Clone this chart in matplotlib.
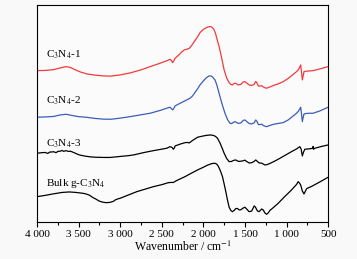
import matplotlib.pyplot as plt
from matplotlib.ticker import MultipleLocator, FuncFormatter

plt.rcParams['font.family'] = ['Liberation Serif', 'DejaVu Serif']
plt.rcParams['mathtext.fontset'] = 'stix'

# FTIR spectra, wavenumber (cm-1) and offset intensity (a.u.)
wn_1 = [4000, 3900, 3800, 3720, 3650, 3600, 3550, 3480, 3400, 3300, 3200, 3120,
        3000, 2880, 2760, 2640, 2520, 2430, 2400, 2380, 2370, 2355, 2340, 2300,
        2260, 2230, 2200, 2170, 2140, 2110, 2070, 2040, 2000, 1960, 1930, 1910,
        1890, 1870, 1850, 1830, 1810, 1780, 1750, 1720, 1690, 1670, 1650, 1640,
        1620, 1600, 1580, 1550, 1520, 1500, 1480, 1450, 1420, 1390, 1370, 1355,
        1340, 1320, 1300, 1280, 1260, 1240, 1200, 1150, 1100, 1040, 980, 920,
        880, 860, 840, 830, 820, 810, 800, 790, 760, 720, 680, 600, 500]
y_1 = [151.3, 151.5, 152.3, 154.0, 155.3, 154.5, 152.5, 150.0, 148.0, 146.8, 146.0,
       145.8, 147.0, 149.0, 151.8, 155.3, 158.7, 161.5, 162.7, 161.0, 159.3, 161.0,
       163.7, 166.5, 170.0, 172.0, 172.7, 173.5, 176.5, 180.3, 185.0, 189.3, 192.5,
       194.5, 195.3, 195.3, 194.3, 192.0, 187.5, 181.0, 175.3, 164.0, 152.0, 144.0,
       139.3, 137.5, 137.0, 138.0, 138.8, 138.0, 137.0, 137.5, 140.0, 140.3, 139.0,
       137.0, 136.5, 137.5, 140.5, 139.0, 136.0, 135.8, 136.3, 135.0, 134.2, 133.7,
       135.0, 136.7, 138.0, 140.3, 143.5, 147.5, 150.3, 152.0, 155.0, 157.0, 150.0,
       142.0, 146.0, 150.3, 150.8, 151.0, 151.3, 153.0, 155.3]

wn_2 = [4000, 3900, 3800, 3720, 3650, 3580, 3500, 3410, 3300, 3200, 3110, 3000,
        2880, 2760, 2640, 2520, 2430, 2400, 2380, 2370, 2355, 2340, 2300, 2240,
        2200, 2160, 2130, 2100, 2070, 2040, 2000, 1960, 1930, 1910, 1890, 1860,
        1840, 1820, 1800, 1770, 1740, 1710, 1680, 1660, 1640, 1620, 1600, 1580,
        1550, 1520, 1500, 1480, 1450, 1420, 1390, 1370, 1355, 1340, 1320, 1300,
        1280, 1260, 1240, 1200, 1150, 1100, 1040, 980, 920, 880, 860, 840, 830,
        820, 810, 800, 790, 760, 720, 680, 600, 500]
y_2 = [104.7, 105.0, 105.5, 107.0, 107.7, 106.5, 105.3, 104.7, 103.5, 102.8, 102.7,
       103.8, 105.3, 107.0, 108.7, 111.5, 114.0, 114.7, 113.0, 112.0, 113.5, 116.0,
       117.8, 120.3, 122.0, 123.7, 126.0, 129.5, 133.0, 137.0, 141.0, 144.5, 146.0,
       146.0, 145.0, 142.0, 137.5, 131.5, 125.3, 116.5, 108.7, 102.5, 98.7, 98.3,
       99.5, 100.3, 99.5, 98.5, 99.0, 101.5, 102.0, 100.5, 98.5, 98.0, 99.0, 102.0,
       100.5, 97.5, 97.3, 97.8, 96.5, 95.7, 95.3, 96.5, 97.8, 98.5, 99.3, 102.0,
       106.0, 108.7, 110.5, 113.0, 114.7, 108.0, 100.3, 104.5, 108.0, 108.5, 108.7,
       108.7, 111.0, 114.7]

wn_3 = [4000, 3950, 3900, 3870, 3850, 3800, 3770, 3750, 3720, 3700, 3680, 3650,
        3620, 3600, 3560, 3520, 3490, 3420, 3350, 3290, 3200, 3120, 3000, 2900,
        2840, 2720, 2600, 2500, 2440, 2400, 2375, 2360, 2345, 2340, 2280, 2220,
        2190, 2170, 2130, 2070, 2000, 1960, 1910, 1870, 1850, 1830, 1800, 1770,
        1750, 1720, 1690, 1660, 1640, 1610, 1590, 1570, 1530, 1500, 1480, 1450,
        1420, 1390, 1370, 1350, 1330, 1300, 1260, 1240, 1200, 1150, 1100, 1020,
        940, 880, 840, 825, 810, 795, 780, 720, 690, 680, 675, 660, 580, 500]
y_3 = [68.7, 69.2, 69.5, 68.5, 69.8, 70.2, 69.3, 70.5, 70.8, 71.5, 70.6, 71.3,
       70.5, 70.8, 69.5, 68.0, 67.0, 65.8, 65.0, 64.7, 64.5, 64.5, 65.5, 66.3,
       67.0, 69.3, 71.3, 72.8, 73.7, 75.3, 74.5, 72.7, 74.5, 76.0, 77.8, 79.3,
       79.5, 79.0, 81.5, 84.7, 86.0, 86.6, 87.0, 86.3, 85.3, 83.7, 79.0, 73.0,
       68.7, 63.5, 60.3, 60.5, 61.5, 62.0, 61.0, 60.5, 61.0, 61.8, 60.5, 59.0,
       59.2, 60.5, 62.0, 60.5, 59.0, 58.8, 57.0, 57.2, 58.5, 60.5, 62.7, 66.5,
       70.3, 73.0, 75.3, 73.0, 66.0, 70.0, 72.7, 73.2, 73.5, 75.5, 72.7, 73.7,
       75.5, 77.0]

wn_bulk = [4000, 3900, 3810, 3700, 3610, 3530, 3450, 3410, 3370, 3330, 3290,
           3250, 3210, 3170, 3120, 3080, 3060, 3030, 3000, 2900, 2800, 2700,
           2600, 2500, 2420, 2390, 2360, 2330, 2280, 2220, 2150, 2070, 2000,
           1950, 1900, 1870, 1850, 1830, 1810, 1790, 1770, 1750, 1730, 1710,
           1690, 1670, 1650, 1630, 1610, 1590, 1570, 1550, 1520, 1500, 1480,
           1450, 1420, 1400, 1390, 1375, 1350, 1330, 1310, 1300, 1280, 1260,
           1240, 1220, 1200, 1150, 1100, 1020, 940, 880, 860, 845, 830, 810,
           790, 775, 760, 750, 700, 600, 500]
y_bulk = [25.3, 26.6, 28.0, 29.5, 30.0, 29.5, 28.7, 28.0, 26.8, 24.5, 22.8,
          20.8, 19.8, 19.3, 19.6, 20.7, 22.0, 23.0, 23.7, 27.0, 30.3, 32.8,
          35.3, 37.3, 39.3, 39.5, 39.5, 41.0, 43.0, 45.3, 48.5, 52.0, 54.7,
          56.8, 58.3, 58.7, 58.4, 57.0, 54.0, 50.0, 45.3, 38.0, 30.3, 22.0,
          14.7, 11.5, 10.3, 11.5, 13.4, 13.5, 12.0, 12.2, 14.0, 14.7, 13.0,
          10.3, 10.8, 14.0, 16.0, 15.0, 11.0, 10.3, 12.0, 13.0, 12.0, 9.0,
          7.7, 9.0, 11.5, 15.0, 18.7, 25.5, 32.0, 37.5, 40.3, 39.0, 37.0, 31.0,
          28.0, 30.5, 33.0, 33.7, 35.5, 40.0, 44.7]

labels = ['C$_3$N$_4$-1', 'C$_3$N$_4$-2', 'C$_3$N$_4$-3', 'Bulk g-C$_3$N$_4$']
label_y = [167, 121, 78, 38]
colors = ['#f23a3a', '#3a5db5', 'black', 'black']

fig = plt.figure(figsize=(3.57, 2.59), dpi=100)
fig.patch.set_facecolor('#f9f9f9')
ax = fig.add_axes([0.1036, 0.143, 0.8155, 0.838])
ax.set_facecolor('#fbfbfb')

series = [(wn_1, y_1), (wn_2, y_2), (wn_3, y_3), (wn_bulk, y_bulk)]
for (wn, yy), c in zip(series, colors):
    ax.plot(wn, yy, color=c, lw=0.9)

for lab, ly in zip(labels, label_y):
    ax.text(3890, ly, lab, fontsize=8, va='center', ha='left')

ax.set_xlim(4000, 500)
ax.set_ylim(0, 217)
ax.set_yticks([])
ax.xaxis.set_major_locator(MultipleLocator(500))
ax.xaxis.set_minor_locator(MultipleLocator(250))
ax.xaxis.set_major_formatter(FuncFormatter(
    lambda v, p: f"{int(v):,}".replace(',', ' ')))
ax.tick_params(axis='x', which='major', direction='out', length=3.5, width=0.8,
               labelsize=8, pad=2)
ax.tick_params(axis='x', which='minor', direction='out', length=2, width=0.8)
for s in ax.spines.values():
    s.set_linewidth(0.8)
ax.set_xlabel('Wavenumber / cm$^{-1}$', fontsize=8.5, labelpad=1)

fig.savefig('out.png', dpi=100, facecolor=fig.get_facecolor())
